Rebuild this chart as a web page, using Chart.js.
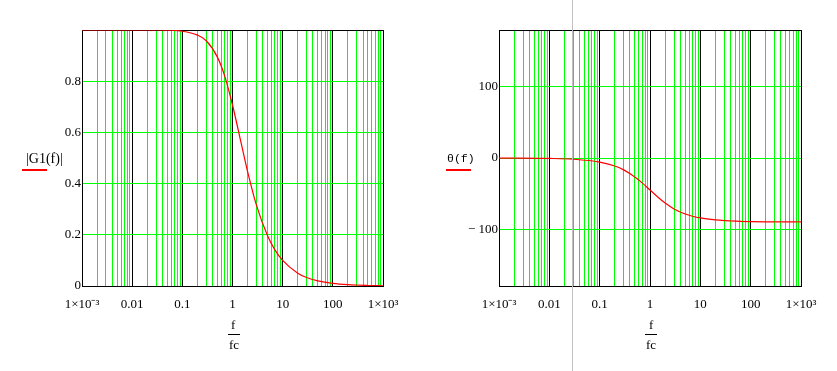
<!DOCTYPE html>
<html>
<head>
<meta charset="utf-8">
<script src="https://cdn.jsdelivr.net/npm/chart.js@4.4.0/dist/chart.umd.min.js"></script>
<style>
  body { margin: 0; background: #fff; width: 837px; height: 371px; overflow: hidden; position: relative; font-family: "Liberation Serif", serif; }
  canvas { position: absolute; top: 0; }
  .lbl { position: absolute; font-size: 13px; color: #000; white-space: nowrap; line-height: 1; }
  .bar { position: absolute; height: 1px; background: #000; }
  .key { position: absolute; height: 2px; background: #ff0000; width: 25px; }
</style>
</head>
<body>
<canvas id="magChart" width="420" height="371" style="left:0"></canvas>
<canvas id="phaseChart" width="417" height="371" style="left:420px"></canvas>

<div class="lbl" style="left:26px;top:152px;font-size:14px">|G1(f)|</div>
<div class="key" style="left:22px;top:169px"></div>
<div class="lbl" style="left:447px;top:153px;font-family:'Liberation Mono',monospace;font-size:11.5px">θ(f)</div>
<div class="key" style="left:446px;top:169px"></div>

<div class="lbl" style="left:231px;top:318px">f</div>
<div class="bar" style="left:228px;top:334px;width:12px"></div>
<div class="lbl" style="left:229px;top:338px">fc</div>

<div class="lbl" style="left:649px;top:318px">f</div>
<div class="bar" style="left:645px;top:334px;width:12px"></div>
<div class="lbl" style="left:646px;top:338px">fc</div>

<div style="position:absolute;left:572px;top:0;width:1px;height:371px;background:#c0c0c0"></div>

<script>
// frequency ratio f/fc
const freqRatio = [0.001, 0.01, 0.03, 0.1, 0.2, 0.3, 0.5, 0.7, 1, 1.5, 2, 3, 5, 7, 10, 20, 30, 50, 100, 200, 500, 1000];
// |G1(f)|
const magnitude = [1.0, 1.0, 1.0, 0.995, 0.98, 0.958, 0.894, 0.82, 0.707, 0.555, 0.447, 0.316, 0.196, 0.141, 0.1, 0.05, 0.033, 0.02, 0.01, 0.005, 0.002, 0.001];
// theta(f) in degrees
const phase = [-0.06, -0.6, -1.7, -5.7, -11.3, -16.7, -26.6, -35, -45, -56.3, -63.4, -71.6, -78.7, -81.9, -84.3, -87.1, -88.1, -88.9, -89.4, -89.7, -89.9, -89.9];

const decades = [0.001, 0.01, 0.1, 1, 10, 100, 1000];
const decadeLabels = ['1×10⁻³', '0.01', '0.1', '1', '10', '100', '1×10³'];
const magTicks = [0, 0.2, 0.4, 0.6, 0.8];
const magTickLabels = ['0', '0.2', '0.4', '0.6', '0.8'];
const phaseTicks = [-100, 0, 100];
const phaseTickLabels = ['− 100', '0', '100'];

const GREEN = '#00ff00';
const tickFont = { family: 'Liberation Serif', size: 13 };

// all 1..9 x 10^n positions for the log grid
const logTicks = [];
decades.forEach((d, i) => {
    if (i === decades.length - 1) { logTicks.push(d); return; }
    for (let m = 1; m <= 9; m++) logTicks.push(Math.round(d * m * 1e6) / 1e6);
});

// black box round the plot area, under the curve
const frame = {
    id: 'frame',
    beforeDatasetsDraw(chart) {
        const { ctx, chartArea: a } = chart;
        ctx.save();
        ctx.strokeStyle = '#000';
        ctx.lineWidth = 1;
        ctx.strokeRect(Math.round(a.left) + 0.5, Math.round(a.top) + 0.5,
            Math.round(a.right - a.left), Math.round(a.bottom - a.top));
        ctx.restore();
    }
};

function xScale() {
    return {
        type: 'logarithmic',
        min: 0.001,
        max: 1000,
        afterBuildTicks: s => { s.ticks = logTicks.map(v => ({ value: v })); },
        afterFit: s => { s.height = 85; },
        border: { display: false },
        grid: {
            drawTicks: false,
            color: c => {
                const i = decades.indexOf(c.tick.value);
                if (i === 0 || i === decades.length - 1) return 'rgba(0,0,0,0)';
                return i > 0 ? '#000' : GREEN;
            },
            lineWidth: 1
        },
        ticks: {
            autoSkip: false,
            maxRotation: 0,
            padding: 11,
            color: '#000',
            font: tickFont,
            callback: v => {
                const i = decades.indexOf(v);
                return i >= 0 ? decadeLabels[i] : '';
            }
        }
    };
}

function yScale(min, max, tickVals, tickLabels, leftWidth) {
    return {
        type: 'linear',
        min: min,
        max: max,
        afterBuildTicks: s => { s.ticks = tickVals.map(v => ({ value: v })); },
        afterFit: s => { s.width = leftWidth; },
        border: { display: false },
        grid: {
            drawTicks: false,
            color: c => (c.tick.value === min || c.tick.value === max) ? 'rgba(0,0,0,0)' : GREEN,
            lineWidth: 1
        },
        ticks: {
            padding: 1,
            color: '#000',
            font: tickFont,
            callback: v => {
                const i = tickVals.indexOf(v);
                return i >= 0 ? tickLabels[i] : '';
            }
        }
    };
}

function makeChart(id, values, yMin, yMax, tickVals, tickLabels, leftWidth, rightPad) {
    return new Chart(document.getElementById(id).getContext('2d'), {
        type: 'line',
        data: {
            datasets: [{
                data: freqRatio.map((f, i) => ({ x: f, y: values[i] })),
                borderColor: '#ff0000',
                borderWidth: 1.2,
                pointRadius: 0,
                tension: 0.4,
                cubicInterpolationMode: 'monotone',
                fill: false
            }]
        },
        options: {
            responsive: false,
            animation: false,
            devicePixelRatio: 1,
            layout: { padding: { top: 30, right: rightPad, left: 0, bottom: 0 } },
            plugins: { legend: { display: false }, tooltip: { enabled: false } },
            scales: {
                x: xScale(),
                y: yScale(yMin, yMax, tickVals, tickLabels, leftWidth)
            }
        },
        plugins: [frame]
    });
}

makeChart('magChart', magnitude, 0, 1, magTicks, magTickLabels, 82, 37);
makeChart('phaseChart', phase, -180, 180, phaseTicks, phaseTickLabels, 79, 36);
</script>
</body>
</html>
